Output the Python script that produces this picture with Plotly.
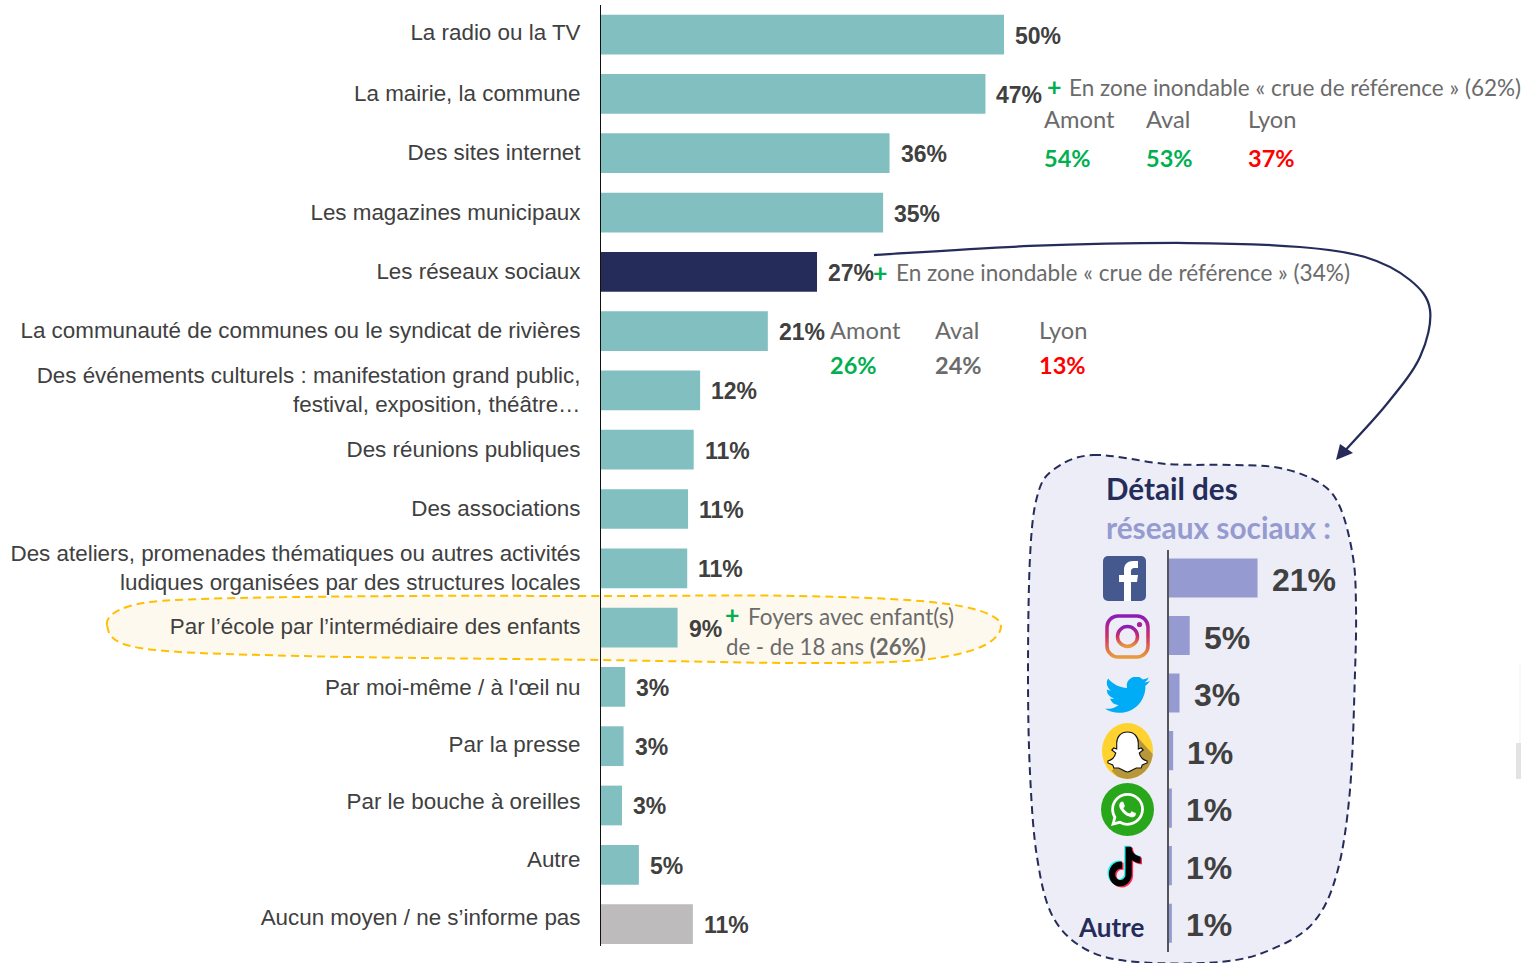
import base64
import plotly.graph_objects as go

W, H = 1521, 963

# ---------- data ----------
categories = [
    "La radio ou la TV", "La mairie, la commune", "Des sites internet",
    "Les magazines municipaux", "Les réseaux sociaux",
    "La communauté de communes ou le syndicat de rivières",
    "Des événements culturels : manifestation grand public,<br>festival, exposition, théâtre…",
    "Des réunions publiques", "Des associations",
    "Des ateliers, promenades thématiques ou autres activités<br>ludiques organisées par des structures locales",
    "Par l’école par l’intermédiaire des enfants", "Par moi-même / à l'œil nu",
    "Par la presse", "Par le bouche à oreilles", "Autre",
    "Aucun moyen / ne s’informe pas",
]
values = [50, 47.7, 35.8, 35, 26.8, 20.7, 12.3, 11.5, 10.8, 10.7, 9.5, 3, 2.8, 2.6, 4.7, 11.4]
value_labels = ["50%", "47%", "36%", "35%", "27%", "21%", "12%", "11%", "11%", "11%", "9%",
                "3%", "3%", "3%", "5%", "11%"]
bar_kinds = ["t", "t", "t", "t", "n", "t", "t", "t", "t", "t", "t", "t", "t", "t", "t", "g"]

social_names = ["Facebook", "Instagram", "Twitter", "Snapchat", "WhatsApp", "TikTok", "Autre"]
social_values = [21, 5, 2.6, 1.1, 0.8, 0.8, 0.8]
social_labels = ["21%", "5%", "3%", "1%", "1%", "1%", "1%"]

# ---------- styles ----------
TEAL, NAVY, GREY_BAR = "#81BFC0", "#252C5A", "#BDBBBC"
PERI, PANEL = "#959BD0", "#ECEDF7"
DARK, MID = "#404040", "#6B6B6B"
GREEN, RED = "#00B050", "#FF0000"
SANS, CAL = "Liberation Sans", "Lato"
kind_colors = {"t": TEAL, "n": NAVY, "g": GREY_BAR}
# vertical nudge of each axis label, in rows (the source slides its labels by hand)
label_nudge_px = [-2, -1, -1, 0, -1, -1, -1, -1, -1, -1, -1, 0, -2, -4, -6, -7]
ROW_PX = 59.27
rows = list(range(len(categories)))
tick_positions = [r + n / ROW_PX for r, n in zip(rows, label_nudge_px)]


def fx(x):
    return x / W


def fy(y):
    return 1 - y / H


def spline(points, closed=True):
    """Smooth closed or open path through pixel points, in paper fractions."""
    n = len(points)

    def p(i):
        return points[i % n] if closed else points[max(0, min(n - 1, i))]

    d = f"M{fx(points[0][0]):.5f},{fy(points[0][1]):.5f}"
    for i in range(n if closed else n - 1):
        p0, p1, p2, p3 = p(i - 1), p(i), p(i + 1), p(i + 2)
        c1 = (p1[0] + (p2[0] - p0[0]) / 6, p1[1] + (p2[1] - p0[1]) / 6)
        c2 = (p2[0] - (p3[0] - p1[0]) / 6, p2[1] - (p3[1] - p1[1]) / 6)
        d += (f" C{fx(c1[0]):.5f},{fy(c1[1]):.5f} {fx(c2[0]):.5f},{fy(c2[1]):.5f}"
              f" {fx(p2[0]):.5f},{fy(p2[1]):.5f}")
    return d + (" Z" if closed else "")


fig = go.Figure()
fig.add_bar(y=rows, x=values, orientation="h", xaxis="x", yaxis="y", customdata=categories,
            marker=dict(color=[kind_colors[k] for k in bar_kinds], line_width=0), width=0.67)
fig.add_bar(y=social_names, x=social_values, orientation="h", xaxis="x2", yaxis="y2",
            marker=dict(color=PERI, line_width=0), width=0.68)

annots = []


def txt(x, y, s, size, color, font=CAL, bold=False, anchor="left"):
    annots.append(dict(xref="paper", yref="paper", x=fx(x), y=fy(y), text=f"<b>{s}</b>" if bold else s,
                       showarrow=False, xanchor=anchor, yanchor="middle", borderpad=0, borderwidth=0,
                       font=dict(family=font, size=size, color=color)))


# value labels tied to the data
for r, v, l in zip(rows, values, value_labels):
    annots.append(dict(xref="x", yref="y", x=v, y=r, text=f"<b>{l}</b>", showarrow=False, xanchor="left",
                       yanchor="middle", xshift=10, yshift=-1, borderpad=0,
                       font=dict(family=SANS, size=23, color=DARK)))
for n, v, l in zip(social_names, social_values, social_labels):
    annots.append(dict(xref="x2", yref="y2", x=v, y=n, text=f"<b>{l}</b>", showarrow=False, xanchor="left",
                       yanchor="middle", xshift=13, yshift=-2, borderpad=0,
                       font=dict(family=SANS, size=32, color=DARK)))

# call-outs
txt(1047, 86, "+", 25, GREEN, bold=True)
txt(1069, 87, "En zone inondable « crue de référence » (62%)", 22.5, MID)
for x, name, val, col in [(1044, "Amont", "54%", GREEN), (1146, "Aval", "53%", GREEN), (1248, "Lyon", "37%", RED)]:
    txt(x, 119, name, 23.7, MID)
    txt(x, 158, val, 23.5, col, bold=True)
txt(873, 272, "+", 25, GREEN, bold=True)
txt(896, 273, "En zone inondable « crue de référence » (34%)", 22.6, MID)
for x, name, val, col in [(830, "Amont", "26%", GREEN), (935, "Aval", "24%", MID), (1039, "Lyon", "13%", RED)]:
    txt(x, 330, name, 23.7, MID)
    txt(x, 365, val, 23.5, col, bold=True)
txt(725, 614, "+", 25, GREEN, bold=True)
txt(748, 616, "Foyers avec enfant(s)", 22.5, MID)
txt(726, 646, "de - de 18 ans <b>(26%)</b>", 22.2, MID)

# panel titles
txt(1106, 488, "Détail des", 29.6, NAVY, bold=True)
txt(1106, 527, "réseaux sociaux :", 29.8, PERI, bold=True)
txt(1078, 927, "Autre", 26, NAVY, bold=True)

# decoration shapes
blob = [(1093, 455), (1167, 464), (1233, 465), (1280, 468), (1320, 483), (1340, 507), (1353, 557),
        (1356, 607), (1355, 673), (1350, 790), (1337, 873), (1313, 923), (1270, 950), (1220, 962),
        (1137, 962), (1087, 950), (1053, 917), (1037, 857), (1030, 773), (1028, 673), (1030, 557),
        (1037, 497), (1053, 470)]
oval = [(107, 625), (130, 606), (200, 599), (400, 596), (600, 596), (800, 596), (940, 603), (998, 620),
        (985, 645), (920, 660), (800, 663), (600, 660), (300, 656), (140, 648)]
curve = [(874, 255), (1030, 246), (1188, 243), (1300, 247), (1365, 257), (1410, 280), (1430, 310),
         (1420, 357), (1386, 405), (1339, 457)]
shapes = [
    dict(type="path", xref="paper", yref="paper", path=spline(oval), layer="below",
         fillcolor="#FEF9EE", line=dict(color="#FFC000", width=2, dash="8px,5px")),
    dict(type="path", xref="paper", yref="paper", path=spline(blob), layer="below",
         fillcolor=PANEL, line=dict(color=NAVY, width=2, dash="8px,5px")),
    dict(type="path", xref="paper", yref="paper", path=spline(curve, closed=False),
         line=dict(color=NAVY, width=2.25)),
    dict(type="path", xref="paper", yref="paper", fillcolor=NAVY, line=dict(color=NAVY, width=0),
         path=(f"M{fx(1336)},{fy(460)} L{fx(1340)},{fy(444)} L{fx(1353)},{fy(453)} Z")),
    dict(type="rect", xref="paper", yref="paper", x0=fx(1516), x1=1, y0=fy(779), y1=fy(743),
         fillcolor="#E3E3E3", line_width=0, layer="below"),
    dict(type="rect", xref="paper", yref="paper", x0=fx(1519), x1=1, y0=fy(743), y1=fy(663),
         fillcolor="#F8F8F8", line_width=0, layer="below"),
]

# ---------- brand glyphs ----------
FB = ('<svg xmlns="http://www.w3.org/2000/svg" viewBox="0 0 43 45"><rect width="43" height="45" rx="5" fill="#46598F"/>'
      '<path fill="#fff" d="M21 45V26h-5v-7h5v-5c0-6 4-9 9-9h5v7h-3c-3 0-4 1-4 4v3h7l-1 7h-6v19z"/></svg>')
IG = ('<svg xmlns="http://www.w3.org/2000/svg" viewBox="0 0 45 45"><defs><linearGradient id="g" x1="0" y1="0" x2="0" y2="1">'
      '<stop offset="0" stop-color="#8A1DB8"/><stop offset=".5" stop-color="#CF2F66"/><stop offset="1" stop-color="#E89A3C"/>'
      '</linearGradient></defs><rect x="2" y="2" width="41" height="41" rx="11" fill="none" stroke="url(#g)" stroke-width="3.5"/>'
      '<circle cx="22.5" cy="22.5" r="10" fill="none" stroke="url(#g)" stroke-width="3.5"/>'
      '<circle cx="34.5" cy="10.5" r="2.6" fill="#A8209A"/></svg>')
TW = ('<svg xmlns="http://www.w3.org/2000/svg" viewBox="0 0 24 20" preserveAspectRatio="none"><path fill="#00ACF5" transform="translate(0,-2.4)" '
      'd="M23.953 4.57a10 10 0 01-2.825.775 4.958 4.958 0 002.163-2.723c-.951.555-2.005.959-3.127 1.184a4.92 4.92 0 00-8.384 4.482C7.69 8.095 4.067 6.13 1.64 3.162a4.822 4.822 0 00-.666 2.475c0 1.71.87 3.213 2.188 4.096a4.904 4.904 0 01-2.228-.616v.06a4.923 4.923 0 003.946 4.827 4.996 4.996 0 01-2.212.085 4.936 4.936 0 004.604 3.417 9.867 9.867 0 01-6.102 2.105c-.39 0-.779-.023-1.17-.067a13.995 13.995 0 007.557 2.209c9.053 0 13.998-7.496 13.998-13.985 0-.21 0-.42-.015-.63A9.935 9.935 0 0024 4.59z"/></svg>')
SC = ('<svg xmlns="http://www.w3.org/2000/svg" viewBox="0 0 52 56"><defs><clipPath id="c"><ellipse cx="26" cy="28" rx="26" ry="28"/></clipPath></defs>'
      '<ellipse cx="26" cy="28" rx="26" ry="28" fill="#FFD230"/>'
      '<path clip-path="url(#c)" fill="#B8963A" d="M36 14L60 40V60H22L10 48Z"/>'
      '<path fill="#fff" stroke="#111" stroke-width="1.1" d="M26 9c-7 0-11 5-11 11v6l-3-1-2 2 4 3c-1 4-4 7-8 8v2l5 2 1 3h5c3 1 6 4 9 4s6-3 9-4h5l1-3 5-2v-2c-4-1-7-4-8-8l4-3-2-2-3 1v-6c0-6-4-11-11-11z"/></svg>')
WA = ('<svg xmlns="http://www.w3.org/2000/svg" viewBox="0 0 53 53"><circle cx="26.5" cy="26.5" r="26.5" fill="#29A71A"/>'
      '<path fill="#fff" transform="translate(10,10) scale(1.375)" d="M17.472 14.382c-.297-.149-1.758-.867-2.03-.967-.273-.099-.471-.148-.67.15-.197.297-.767.966-.94 1.164-.173.199-.347.223-.644.075-.297-.15-1.255-.463-2.39-1.475-.883-.788-1.48-1.761-1.653-2.059-.173-.297-.018-.458.13-.606.134-.133.298-.347.446-.52.149-.174.198-.298.298-.497.099-.198.05-.371-.025-.52-.075-.149-.669-1.612-.916-2.207-.242-.579-.487-.5-.669-.51-.173-.008-.371-.01-.57-.01-.198 0-.52.074-.792.372-.272.297-1.04 1.016-1.04 2.479 0 1.462 1.065 2.875 1.213 3.074.149.198 2.096 3.2 5.077 4.487.709.306 1.262.489 1.694.625.712.227 1.36.195 1.871.118.571-.085 1.758-.719 2.006-1.413.248-.694.248-1.289.173-1.413-.074-.124-.272-.198-.57-.347m-5.421 7.403h-.004a9.87 9.87 0 01-5.031-1.378l-.361-.214-3.741.982.998-3.648-.235-.374a9.86 9.86 0 01-1.51-5.26c.001-5.45 4.436-9.884 9.888-9.884 2.64 0 5.122 1.03 6.988 2.898a9.825 9.825 0 012.893 6.994c-.003 5.45-4.437 9.884-9.885 9.884m8.413-18.297A11.815 11.815 0 0012.05 0C5.495 0 .16 5.335.157 11.892c0 2.096.547 4.142 1.588 5.945L.057 24l6.305-1.654a11.882 11.882 0 005.683 1.448h.005c6.554 0 11.89-5.335 11.893-11.893a11.821 11.821 0 00-3.48-8.413z"/></svg>')
TK_P = ('M12.525.02c1.31-.02 2.61-.01 3.91-.02.08 1.53.63 3.09 1.75 4.17 1.12 1.11 2.7 1.62 4.24 1.79v4.03c-1.44-.05-2.89-.35-4.2-.97-.57-.26-1.1-.59-1.62-.93-.01 2.92.01 5.84-.02 8.75-.08 1.4-.54 2.79-1.35 3.94-1.31 1.92-3.58 3.17-5.91 3.21-1.43.08-2.86-.31-4.08-1.03-2.02-1.19-3.44-3.37-3.65-5.71-.02-.5-.03-1-.01-1.49.18-1.9 1.12-3.72 2.58-4.96 1.66-1.44 3.98-2.13 6.15-1.72.02 1.48-.04 2.96-.04 4.44-.99-.32-2.15-.23-3.02.37-.63.41-1.11 1.04-1.36 1.75-.21.51-.15 1.07-.14 1.61.24 1.64 1.82 3.02 3.5 2.87 1.12-.01 2.19-.66 2.77-1.61.19-.33.4-.67.41-1.06.1-1.79.06-3.57.07-5.36.01-4.03-.01-8.05.02-12.07z')
TK = (f'<svg xmlns="http://www.w3.org/2000/svg" viewBox="-1 -1 25 26"><path fill="#25F4EE" transform="translate(-.9,-.6)" d="{TK_P}"/>'
      f'<path fill="#FE2C55" transform="translate(.9,.7)" d="{TK_P}"/><path fill="#000" d="{TK_P}"/></svg>')

icons = [(FB, 1103, 556, 43, 45), (IG, 1105, 614, 45, 45), (TW, 1105, 677, 45, 37),
         (SC, 1102, 723, 51, 56), (WA, 1101, 783, 53, 53), (TK, 1105, 845, 38, 43)]
images = []
for svg, x, y, w, h in icons:
    uri = "data:image/svg+xml;base64," + base64.b64encode(svg.encode()).decode()
    images.append(dict(source=uri, xref="paper", yref="paper", x=fx(x), y=fy(y), sizex=w / W, sizey=h / H,
                       xanchor="left", yanchor="top", sizing="stretch", layer="above"))

fig.update_layout(
    width=W, height=H, margin=dict(l=0, r=0, t=0, b=0), autosize=False,
    paper_bgcolor="white", plot_bgcolor="rgba(0,0,0,0)", showlegend=False, hovermode=False,
    font=dict(family=SANS, color=DARK),
    xaxis=dict(domain=[fx(601), 1], range=[0, 920 / 8.06], visible=False, fixedrange=True, anchor="y"),
    yaxis=dict(domain=[fy(946), fy(5)], range=[15.37, -0.5], type="linear", tickmode="array",
               tickvals=tick_positions, ticktext=categories, showline=True, linecolor="#111111", linewidth=1,
               ticks="", ticklabelstandoff=15, showgrid=False, zeroline=False, fixedrange=True, anchor="x",
               automargin=False, tickfont=dict(family=SANS, size=22.4, color=DARK)),
    xaxis2=dict(domain=[fx(1168.5), fx(1345)], range=[0, 176.5 / 4.24], visible=False, fixedrange=True, anchor="y2"),
    yaxis2=dict(domain=[fy(952), fy(550)], range=[6.5, -0.486], type="category", categoryorder="array",
                categoryarray=social_names, showline=True, linecolor="#555555", linewidth=1.5, ticks="",
                showticklabels=False, showgrid=False, zeroline=False, fixedrange=True, anchor="x2"),
    annotations=annots, shapes=shapes, images=images,
)

fig.write_html("out.html", config=dict(displayModeBar=False),
               post_script="document.body.style.margin='0';document.body.style.overflow='hidden';")
